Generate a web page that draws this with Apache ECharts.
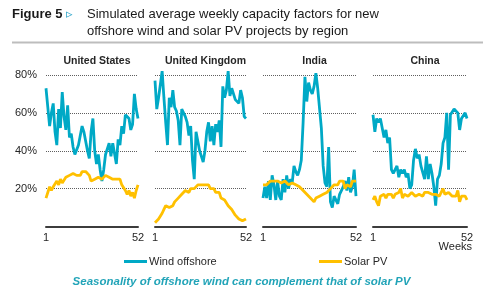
<!DOCTYPE html>
<html><head><meta charset="utf-8">
<script src="https://cdn.jsdelivr.net/npm/echarts@6/dist/echarts.min.js"></script>
<style>html,body{margin:0;padding:0;background:#fff}#c{width:483px;height:293px}</style>
</head><body><div id="c"></div>
<script>
const weeks = Array.from({length: 52}, (_, i) => String(i + 1));
const regions = ['United States', 'United Kingdom', 'India', 'China'];
const seriesNames = ['Wind offshore', 'Solar PV'];
const yTickValues = [0, 20, 40, 60, 80];

const usWind = [73,63,53,60,65,50,43,62,52,71,58,51,64,47,49,42,38,37,43,48,53,50,45,40,36,50,57,40,33,38,30,24,30,38,39,44,37,44,45,33,46,43,53,49,59,58,57,51,54,70,62,57];
const usSolar = [15,15,21,19,21,22,24,22,25,23,24,26,25,27,28,28,27,27,28,27,29,28,29,28,27,24,23,25,26,26,26,25,26,27,27,26,27,25,24,25,24,25,22,21,19,17,19,16,18,15,19,22];
const ukWind = [77,62,68,75,82,68,55,43,68,63,72,63,61,56,43,62,60,58,55,48,53,35,25,50,45,40,37,34,40,50,55,45,53,43,54,50,56,42,74,68,72,82,69,73,70,67,66,65,72,68,58,57];
const ukSolar = [2,3,4,5,7,9,11,12,10,11,11,13,14,15,16,17,16,19,20,18,20,21,20,21,22,23,22,23,22,21,22,20,19,20,18,17,18,15,16,14,13,11,12,9,8,6,5,4,4,3,3,4];
const inWind = [15,21,15,24,14,27,22,14,24,16,14,25,18,27,20,25,23,32,29,27,30,35,55,79,66,76,72,70,74,81,73,72,52,32,23,21,42,13,10,16,17,12,17,19,21,24,19,26,18,21,30,16];
const inSolar = [22,23,22,23,24,23,24,25,24,24,23,22,24,23,22,23,23,22,22,21,21,20,19,18,17,16,15,14,13,15,14,16,15,17,16,18,19,20,21,22,23,22,24,23,24,20,22,23,21,24,24,24];
const cnWind = [59,50,57,55,57,58,47,51,44,47,30,28,30,32,26,30,28,30,26,28,20,22,35,41,36,38,32,31,25,37,25,33,28,21,11,25,27,33,44,47,60,30,59,60,62,61,60,51,57,56,60,57];
const cnSolar = [14,16,13,11,16,16,17,15,17,16,17,15,17,16,18,20,15,17,16,16,17,18,17,16,17,17,18,16,18,19,18,17,17,16,17,17,16,18,20,17,16,18,17,16,17,16,19,13,16,16,16,14];

const windData = [usWind, ukWind, inWind, cnWind];
const solarData = [usSolar, ukSolar, inSolar, cnSolar];

const WIND = '#00A9C6', SOLAR = '#FFC000', TXT = '#262626';
const lefts = [46, 155, 263, 373];
const widths = [92, 91, 93, 94];
const FONT = 'Liberation Sans';

const grids = [], xAxes = [], yAxes = [], series = [], titles = [];
regions.forEach((r, i) => {
  grids.push({left: lefts[i], width: widths[i], top: 75, bottom: 66.5});
  titles.push({text: r, left: lefts[i] + widths[i] / 2, top: 51, textAlign: 'center',
    textStyle: {fontSize: 10.5, fontWeight: 'bold', color: TXT, fontFamily: FONT}});
  xAxes.push({type: 'category', gridIndex: i, data: weeks, boundaryGap: false,
    axisLine: {lineStyle: {color: '#3c3c3c', width: 2}}, axisTick: {show: false},
    axisLabel: {interval: (idx) => idx === 0 || idx === 51, margin: 6, fontSize: 11, color: TXT, fontFamily: FONT},
    splitLine: {show: false}});
  yAxes.push({type: 'value', gridIndex: i, min: yTickValues[0], max: yTickValues[yTickValues.length - 1], interval: 20,
    axisLine: {show: false}, axisTick: {show: false},
    axisLabel: {show: i === 0, margin: 9, fontSize: 11, color: TXT, fontFamily: FONT,
      formatter: v => v === 0 ? '' : v + '%'},
    splitLine: {show: true, lineStyle: {type: 'dotted', color: '#5f5f5f', width: 1}}});
  series.push({name: seriesNames[0], type: 'line', xAxisIndex: i, yAxisIndex: i, data: windData[i],
    showSymbol: false, symbol: 'none', clip: false, lineStyle: {color: WIND, width: 2.8}, itemStyle: {color: WIND}});
  series.push({name: seriesNames[1], type: 'line', xAxisIndex: i, yAxisIndex: i, data: solarData[i],
    showSymbol: false, symbol: 'none', clip: false, lineStyle: {color: SOLAR, width: 2.8}, itemStyle: {color: SOLAR}});
});

const chart = echarts.init(document.getElementById('c'), null, {renderer: 'canvas'});
chart.setOption({
  animation: false,
  textStyle: {fontFamily: FONT},
  title: titles,
  grid: grids, xAxis: xAxes, yAxis: yAxes, series: series,
  legend: [
    {data: [seriesNames[0]], left: 119, top: 251, icon: 'rect', itemWidth: 23, itemHeight: 3, itemGap: 0,
      textStyle: {fontSize: 11, color: TXT, fontFamily: FONT, padding: [0, 0, 0, -3]}},
    {data: [seriesNames[1]], left: 314, top: 251, icon: 'rect', itemWidth: 23, itemHeight: 3, itemGap: 0,
      textStyle: {fontSize: 11, color: TXT, fontFamily: FONT, padding: [0, 0, 0, -3]}}
  ],
  graphic: [
    {type: 'text', left: 12, top: 8, style: {text: 'Figure 5', fontSize: 13, fontWeight: 'bold', fill: '#1a1a1a', fontFamily: FONT}},
    {type: 'text', left: 66, top: 8, style: {text: '▹', fontSize: 13, fill: '#29A3C8', fontFamily: 'DejaVu Sans'}},
    {type: 'text', left: 87, top: 8, style: {text: 'Simulated average weekly capacity factors for new', fontSize: 13, fill: '#1a1a1a', fontFamily: FONT}},
    {type: 'text', left: 87, top: 25, style: {text: 'offshore wind and solar PV projects by region', fontSize: 13, fill: '#1a1a1a', fontFamily: FONT}},
    {type: 'line', shape: {x1: 12, y1: 42.5, x2: 483, y2: 42.5}, style: {stroke: '#bdbdbd', lineWidth: 2}},
    {type: 'text', right: 11, top: 241, style: {text: 'Weeks', fontSize: 11, fill: TXT, fontFamily: FONT}},
    {type: 'text', left: 'center', top: 276, style: {text: 'Seasonality of offshore wind can complement that of solar PV', fontSize: 11.5, fontStyle: 'italic', fontWeight: 'bold', fill: '#22A4B8', fontFamily: FONT}}
  ]
});
</script></body></html>
